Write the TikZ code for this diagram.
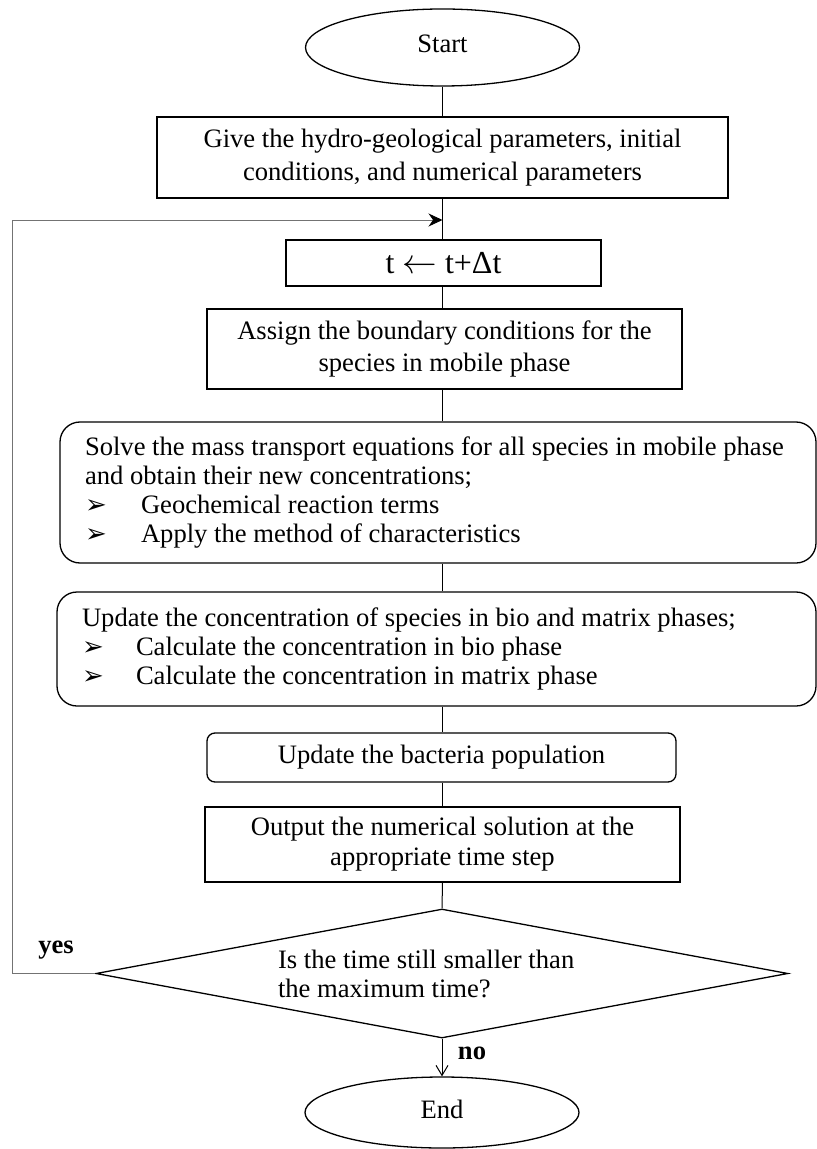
\documentclass[tikz,border=0pt]{standalone}
\usepackage{fontspec}
\setmainfont{Liberation Serif}
\newfontfamily\dingfont{DejaVu Sans}
\usetikzlibrary{shapes.geometric,arrows.meta}
\newcommand\bulitem[2]{\makebox[#1][l]{\dingfont\fontsize{13}{10}\selectfont ➢}#2}
\begin{document}
\begin{tikzpicture}[x=0.5pt,y=-0.5pt,
  base/.style={draw, line width=0.65pt, inner sep=0pt, align=center,
    font=\fontsize{13.3}{16}\selectfont},
  oval/.style={base, ellipse, minimum width=137pt},
  plainbox/.style={base, rectangle},
  roundbox/.style={base, rectangle, rounded corners=10pt, align=flush left, inner xsep=12.5pt},
  link/.style={line width=0.5pt},
  looplink/.style={line width=0.45pt, draw=black!55},
  lbl/.style={font=\fontsize{13.3}{16}\selectfont\bfseries, inner sep=0pt}]
\useasboundingbox (0,0) rectangle (817,1149);
\coordinate (spine) at (442.5,0);
\node[oval, minimum height=38.5pt] (start) at (442.5,47.5) {\raisebox{3.5pt}{Start}};
\node[plainbox, minimum width=285.5pt, minimum height=40.5pt,
  font=\fontsize{13.3}{16.5}\selectfont] (give) at (442.5,157.5)
  {Give the hydro-geological parameters, initial\\conditions, and numerical parameters};
\coordinate (join) at (442.5,220);
\node[plainbox, minimum width=157.5pt, minimum height=23pt,
  font=\fontsize{16}{18}\selectfont] (tstep) at (443.5,263) {t $\leftarrow$ t+Δt};
\node[plainbox, minimum width=237.5pt, minimum height=40pt,
  font=\fontsize{13.3}{16}\selectfont] (assign) at (444.5,349)
  {Assign the boundary conditions for the\\species in mobile phase};
\node[roundbox, text width=353pt, minimum height=70.5pt,
  font=\fontsize{13.3}{14.5}\selectfont] (solve) at (438,492.5)
  {Solve the mass transport equations for all species in mobile phase\\
   and obtain their new concentrations;\\
   \bulitem{28pt}{Geochemical reaction terms}\\
   \bulitem{28pt}{Apply the method of characteristics}};
\node[roundbox, text width=354.5pt, minimum height=57pt,
  font=\fontsize{13.3}{14.5}\selectfont] (updconc) at (436.5,649)
  {Update the concentration of species in bio and matrix phases;\\
   \bulitem{27pt}{Calculate the concentration in bio phase}\\
   \bulitem{27pt}{Calculate the concentration in matrix phase}};
\node[plainbox, rounded corners=4pt, minimum width=234.5pt, minimum height=24.5pt]
  (bact) at (441.5,757.5) {Update the bacteria population};
\node[plainbox, minimum width=237.5pt, minimum height=37.5pt,
  font=\fontsize{13.3}{15}\selectfont] (output) at (442.5,844.5)
  {Output the numerical solution at the\\appropriate time step};
\node[base, diamond, aspect=5.36, minimum width=346pt, minimum height=64.5pt,
  align=left, font=\fontsize{13.3}{14.5}\selectfont] (decide) at (442,973.5)
  {\makebox[164pt][l]{Is the time still smaller than}\\the maximum time?};
\node[oval, minimum height=35.5pt] (finish) at (442,1112.5) {\raisebox{3pt}{End}};
\node[lbl] (yes) at (56,950) {yes};
\node[lbl] (no) at (472,1053) {no};
\draw[link] (start.south -| spine) -- (give.north -| spine);
\draw[link] (give.south -| spine) -- (tstep.north -| spine);
\draw[link] (tstep.south -| spine) -- (assign.north -| spine);
\draw[link] (assign.south -| spine) -- (solve.north -| spine);
\draw[link] (solve.south -| spine) -- (updconc.north -| spine);
\draw[link] (updconc.south -| spine) -- (bact.north -| spine);
\draw[link] (bact.south -| spine) -- (output.north -| spine);
\draw[link] (output.south -| spine) -- (decide.north);
\draw[link, -{Straight Barb[length=5pt,width=6pt]}] (decide.south) -- (finish.north);
\draw[looplink, -{Stealth[length=7pt,width=6.5pt,black]}]
  (decide.west) -- ++(-83,0) |- (join);
\end{tikzpicture}
\end{document}
